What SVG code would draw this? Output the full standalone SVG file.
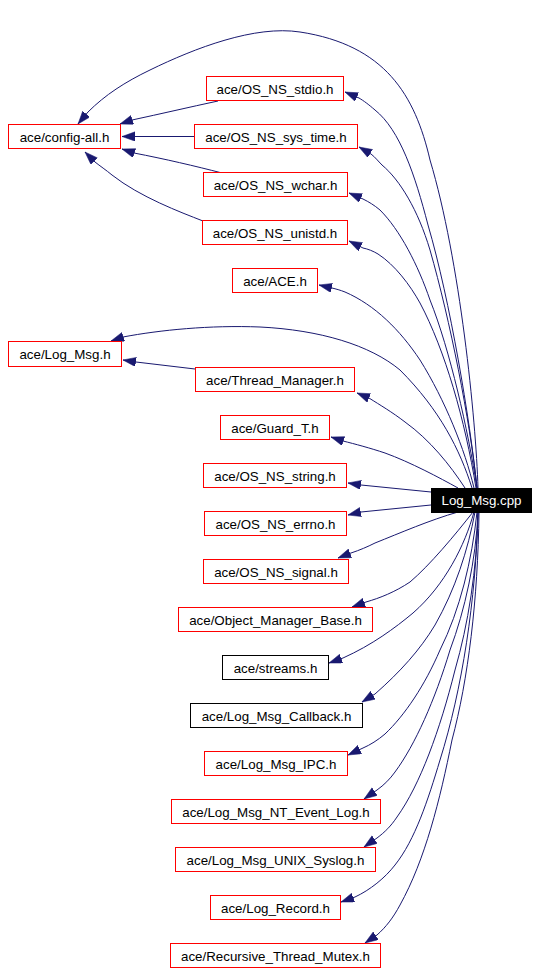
<svg xmlns="http://www.w3.org/2000/svg" width="539" height="973" viewBox="0 0 539 973">
<style>
.n rect{fill:#fff;stroke:#ff0000;stroke-width:1}
.n.k rect{stroke:#000}
.n text{font-family:"Liberation Sans",Arial,sans-serif;font-size:13.33px;fill:#000;text-anchor:middle}
#n_cpp rect{fill:#000;stroke:none}
#n_cpp text{fill:#fff}
#edges path{fill:none;stroke:#191970;stroke-width:1;marker-end:url(#ah)}
</style>
<defs>
<marker id="ah" markerUnits="userSpaceOnUse" markerWidth="14" markerHeight="10" refX="13" refY="4.65" orient="auto" viewBox="0 0 14 10">
<path d="M0,0 L13,4.65 L0,9.3 z" fill="#191970" stroke="#191970" stroke-width="0.5"/>
</marker>
</defs>
<g id="edges">
<path d="M478,488 C476,420 460,260 430,160 C415,95 385,45 300,32 C255,25 195,48 150,70 C125,82 105,95 88,112 L78,124"/>
<path d="M477,488 C470,420 450,300 428,225 C415,175 400,130 375,110 C368,104 364,101 359,98 L345,92"/>
<path d="M477,488 C470,420 450,320 430,250 C418,210 400,180 382,165 C378,161 375,157 371,154 L359,147"/>
<path d="M477,488 C468,430 450,350 430,300 C418,265 400,230 380,210 C374,205 369,202 363,199 L349,193"/>
<path d="M476,488 C465,420 445,350 420,303 C410,285 395,265 378,254 C373,251 368,249 363,248 L349,241"/>
<path d="M474,488 C465,450 445,400 420,360 C400,330 375,305 345,292 C340,290 336,289 332,288 L319,285"/>
<path d="M472,488 C460,450 440,410 400,370 C370,345 320,330 260,327 C210,325 160,330 123,337 L111,341"/>
<path d="M465,488 C450,465 430,440 405,422 C392,412 380,405 369,398 L357,393"/>
<path d="M458,488 C440,478 410,462 385,453 C370,448 355,444 343,441 L331,437"/>
<path d="M431,492 L361,485 L348,483"/>
<path d="M431,505 L361,512 L348,515"/>
<path d="M458,512 C430,520 400,533 375,543 C367,547 360,550 351,553 L338,558"/>
<path d="M473,512 C455,535 430,565 410,582 C395,592 380,598 366,602 L352,607"/>
<path d="M474,512 C465,545 445,585 413,613 C395,628 372,645 343,658 L329,663"/>
<path d="M475,512 C468,550 455,590 435,625 C420,650 400,672 375,694 L362,702"/>
<path d="M477,512 C472,560 460,610 440,650 C425,685 405,715 385,734 C378,740 370,745 363,748 L348,755"/>
<path d="M478,512 C476,560 465,610 450,650 C435,700 415,745 395,772 C390,779 384,785 377,790 L364,799"/>
<path d="M478,512 C477,570 468,625 455,670 C440,730 420,785 397,817 C391,826 385,832 377,838 L364,847"/>
<path d="M478,512 C476,600 462,690 440,760 C428,800 415,840 395,865 C385,878 370,890 355,897 L341,902"/>
<path d="M479,512 C478,600 468,680 452,740 C440,800 425,860 400,905 C393,918 386,927 377,935 L365,943"/>
<path d="M218,101 C190,107 160,114 132,120 L120,124"/>
<path d="M195,136.5 L135,136.5 L122,136.5"/>
<path d="M222,173 C195,166 165,159 134,153 L122,149"/>
<path d="M203,221 C180,212 140,197 112,175 C106,170 100,166 95,162 L85,152"/>
<path d="M195,369 L136,362 L123,360"/>
</g>
<g id="n_config" class="n"><rect x="8.5" y="124.5" width="112" height="24"/><text x="64.5" y="141.5">ace/config-all.h</text></g>
<g id="n_stdio" class="n"><rect x="206.5" y="76.5" width="137" height="24"/><text x="275" y="93.5">ace/OS_NS_stdio.h</text></g>
<g id="n_systime" class="n"><rect x="194.5" y="124.5" width="163" height="24"/><text x="276" y="141.5">ace/OS_NS_sys_time.h</text></g>
<g id="n_wchar" class="n"><rect x="203.5" y="172.5" width="144" height="24"/><text x="275.5" y="189.5">ace/OS_NS_wchar.h</text></g>
<g id="n_unistd" class="n"><rect x="202.5" y="220.5" width="145" height="24"/><text x="275" y="237.5">ace/OS_NS_unistd.h</text></g>
<g id="n_ace" class="n"><rect x="232.5" y="268.5" width="85" height="24"/><text x="275" y="285.5">ace/ACE.h</text></g>
<g id="n_logmsgh" class="n"><rect x="8.5" y="341.5" width="113" height="25"/><text x="65" y="358.5">ace/Log_Msg.h</text></g>
<g id="n_tm" class="n"><rect x="195.5" y="367.5" width="159" height="24"/><text x="275" y="384.5">ace/Thread_Manager.h</text></g>
<g id="n_guard" class="n"><rect x="220.5" y="415.5" width="109" height="24"/><text x="275" y="432.5">ace/Guard_T.h</text></g>
<g id="n_string" class="n"><rect x="203.5" y="463.5" width="143" height="24"/><text x="275" y="480.5">ace/OS_NS_string.h</text></g>
<g id="n_cpp" class="n"><rect x="431" y="488" width="101" height="25"/><text x="481.5" y="505">Log_Msg.cpp</text></g>
<g id="n_errno" class="n"><rect x="204.5" y="511.5" width="142" height="24"/><text x="275.5" y="528.5">ace/OS_NS_errno.h</text></g>
<g id="n_signal" class="n"><rect x="203.5" y="559.5" width="145" height="24"/><text x="276" y="576.5">ace/OS_NS_signal.h</text></g>
<g id="n_omb" class="n"><rect x="178.5" y="607.5" width="194" height="24"/><text x="275.5" y="624.5">ace/Object_Manager_Base.h</text></g>
<g id="n_streams" class="n k"><rect x="222.5" y="655.5" width="106" height="24"/><text x="275.5" y="672.5">ace/streams.h</text></g>
<g id="n_callback" class="n k"><rect x="190.5" y="703.5" width="172" height="24"/><text x="276.5" y="720.5">ace/Log_Msg_Callback.h</text></g>
<g id="n_ipc" class="n"><rect x="204.5" y="751.5" width="143" height="24"/><text x="276" y="768.5">ace/Log_Msg_IPC.h</text></g>
<g id="n_nt" class="n"><rect x="171.5" y="799.5" width="209" height="24"/><text x="276" y="816.5">ace/Log_Msg_NT_Event_Log.h</text></g>
<g id="n_syslog" class="n"><rect x="175.5" y="847.5" width="200" height="24"/><text x="275.5" y="864.5">ace/Log_Msg_UNIX_Syslog.h</text></g>
<g id="n_record" class="n"><rect x="210.5" y="895.5" width="130" height="24"/><text x="275.5" y="912.5">ace/Log_Record.h</text></g>
<g id="n_rtm" class="n"><rect x="170.5" y="943.5" width="210" height="24"/><text x="275.5" y="960.5">ace/Recursive_Thread_Mutex.h</text></g>
</svg>
